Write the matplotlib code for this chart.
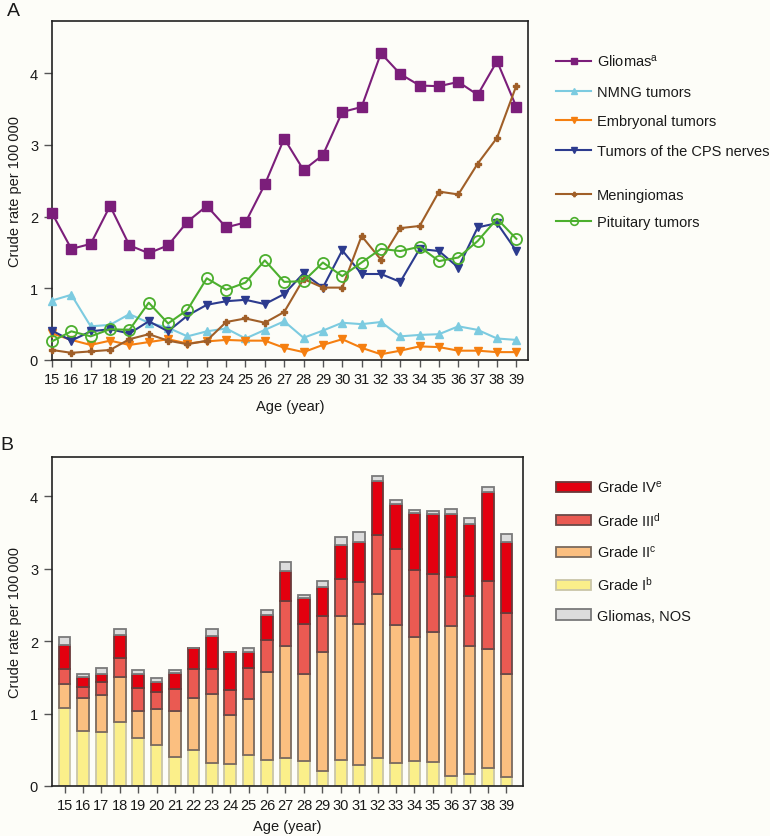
import matplotlib
matplotlib.use('Agg')
import matplotlib.pyplot as plt
from matplotlib.lines import Line2D
from matplotlib.patches import Patch

plt.rcParams['font.family'] = ['Liberation Sans', 'DejaVu Sans']

ages = list(range(15, 40))

# Panel A: crude rates per 100 000
gliomas = [2.05, 1.55, 1.62, 2.15, 1.60, 1.49, 1.60, 1.93, 2.15, 1.85, 1.92, 2.45, 3.09,
           2.65, 2.86, 3.46, 3.53, 4.28, 3.99, 3.83, 3.82, 3.88, 3.70, 4.17, 3.53]
nmng = [0.83, 0.91, 0.47, 0.49, 0.64, 0.52, 0.45, 0.33, 0.40, 0.44, 0.30, 0.42, 0.54,
        0.31, 0.41, 0.52, 0.50, 0.53, 0.33, 0.35, 0.36, 0.47, 0.42, 0.30, 0.28]
embryonal = [0.37, 0.28, 0.21, 0.27, 0.21, 0.25, 0.29, 0.23, 0.26, 0.28, 0.27, 0.27, 0.17,
             0.11, 0.21, 0.29, 0.17, 0.08, 0.13, 0.19, 0.18, 0.13, 0.13, 0.11, 0.11]
cps_nerves = [0.41, 0.27, 0.40, 0.43, 0.37, 0.54, 0.40, 0.62, 0.77, 0.82, 0.84, 0.78, 0.92,
              1.21, 1.01, 1.53, 1.20, 1.20, 1.09, 1.55, 1.52, 1.29, 1.85, 1.91, 1.52]
meningiomas = [0.14, 0.10, 0.12, 0.14, 0.29, 0.36, 0.27, 0.22, 0.27, 0.53, 0.58, 0.52, 0.67,
               1.13, 1.01, 1.01, 1.73, 1.40, 1.84, 1.87, 2.35, 2.31, 2.74, 3.10, 3.83]
pituitary = [0.26, 0.40, 0.33, 0.43, 0.42, 0.80, 0.51, 0.70, 1.14, 0.98, 1.08, 1.39, 1.09,
             1.10, 1.36, 1.17, 1.36, 1.55, 1.52, 1.58, 1.38, 1.43, 1.66, 1.97, 1.69]

# Panel B: glioma grades (stacked segments)
grade_I = [1.08, 0.76, 0.74, 0.88, 0.66, 0.57, 0.40, 0.49, 0.32, 0.30, 0.43, 0.36, 0.38,
           0.34, 0.21, 0.36, 0.29, 0.38, 0.32, 0.34, 0.33, 0.14, 0.17, 0.25, 0.13]
grade_II = [0.33, 0.46, 0.52, 0.63, 0.38, 0.49, 0.64, 0.73, 0.95, 0.68, 0.77, 1.22, 1.55,
            1.21, 1.64, 1.99, 1.94, 2.27, 1.90, 1.71, 1.79, 2.07, 1.76, 1.64, 1.42]
grade_III = [0.20, 0.14, 0.17, 0.26, 0.31, 0.24, 0.30, 0.39, 0.35, 0.34, 0.43, 0.43, 0.62,
             0.69, 0.49, 0.51, 0.59, 0.81, 1.05, 0.93, 0.81, 0.68, 0.69, 0.94, 0.84]
grade_IV = [0.33, 0.15, 0.11, 0.32, 0.19, 0.13, 0.22, 0.30, 0.45, 0.53, 0.22, 0.35, 0.41,
            0.36, 0.40, 0.47, 0.55, 0.75, 0.62, 0.79, 0.82, 0.86, 1.00, 1.23, 0.98]
gliomas_nos = [0.12, 0.04, 0.09, 0.07, 0.06, 0.06, 0.04, 0.00, 0.09, 0.00, 0.05, 0.07, 0.13,
               0.04, 0.09, 0.10, 0.13, 0.07, 0.05, 0.04, 0.04, 0.07, 0.08, 0.07, 0.11]

W, H = 770, 837
bg = '#fdfdf8'
fig = plt.figure(figsize=(W / 100, H / 100), dpi=100)
fig.patch.set_facecolor(bg)

txt = '#1a1a1a'
fs = 10.5


def style_axes(ax, xpad):
    ax.set_facecolor(bg)
    for s in ax.spines.values():
        s.set_linewidth(1.2)
        s.set_color('#222222')
    ax.tick_params(axis='both', direction='out', length=5, width=1.0, color='#555555',
                   labelsize=fs, labelcolor=txt, pad=4)
    ax.tick_params(axis='y', length=6)
    ax.set_xticks(ages)
    ax.set_xticklabels([str(a) for a in ages])
    ax.set_yticks([0, 1, 2, 3, 4])
    ax.set_ylabel('Crude rate per 100\u2009000', fontsize=fs, color=txt, labelpad=6)
    ax.set_xlabel('Age (year)', fontsize=fs, color=txt, labelpad=xpad)


# ---------- Panel A ----------
axA = fig.add_axes([52 / W, 1 - 361 / H, 476 / W, 339 / H])
style_axes(axA, 9)
axA.set_xlim(15, 39.6)
axA.set_ylim(0, 4.73)

series = [
    (gliomas, 'Gliomas$\\mathregular{^a}$', '#7b1e7a', 's', 6.5, 'full'),
    (nmng, 'NMNG tumors', '#7ccbe0', '^', 5.5, 'full'),
    (embryonal, 'Embryonal tumors', '#f57f10', 'v', 5.5, 'full'),
    (cps_nerves, 'Tumors of the CPS nerves', '#2c3b8e', 'v', 5.5, 'full'),
    (meningiomas, 'Meningiomas', '#a05f28', 'P', 4.5, 'full'),
    (pituitary, 'Pituitary tumors', '#4caf2e', 'o', 8, 'none'),
]
handles = []
for vals, lab, col, mk, ms, fill in series:
    if fill == 'none':
        axA.plot(ages, vals, color=col, lw=1.5, marker=mk, ms=ms, mfc='none',
                 mec=col, mew=1.3, clip_on=False, zorder=3)
        h = Line2D([], [], color=col, lw=1.5, marker=mk, ms=5.5, mfc='none', mec=col, mew=1.2)
    else:
        axA.plot(ages, vals, color=col, lw=1.5, marker=mk, ms=ms, mfc=col, mec=col,
                 clip_on=False, zorder=3)
        h = Line2D([], [], color=col, lw=1.5, marker=mk, ms=ms * 0.7, mfc=col, mec=col)
    handles.append((h, lab))

fig.legend([h for h, _ in handles[:4]], [l for _, l in handles[:4]],
           loc='upper left', bbox_to_anchor=(556 / W, 1 - 54 / H),
           bbox_transform=fig.transFigure, frameon=False, fontsize=fs,
           handlelength=2.4, handletextpad=0.4, labelspacing=1.07,
           borderpad=0, borderaxespad=0, labelcolor=txt)
fig.legend([h for h, _ in handles[4:]], [l for _, l in handles[4:]],
           loc='upper left', bbox_to_anchor=(556 / W, 1 - 189 / H),
           bbox_transform=fig.transFigure, frameon=False, fontsize=fs,
           handlelength=2.4, handletextpad=0.4, labelspacing=0.9,
           borderpad=0, borderaxespad=0, labelcolor=txt)

# ---------- Panel B ----------
axB = fig.add_axes([52 / W, 1 - 787 / H, 471 / W, 329 / H])
style_axes(axB, 5)
axB.set_xlim(14.32, 39.9)
axB.set_ylim(0, 4.54)

bar_specs = [
    (grade_I, 'Grade I$\\mathregular{^b}$', '#fbef8a', '#c9c5a8'),
    (grade_II, 'Grade II$\\mathregular{^c}$', '#fbbf80', '#7a6a5e'),
    (grade_III, 'Grade III$\\mathregular{^d}$', '#ea5a52', '#6a4a48'),
    (grade_IV, 'Grade IV$\\mathregular{^e}$', '#e3000f', '#6a3a3a'),
    (gliomas_nos, 'Gliomas, NOS', '#dcdcdc', '#7a7a7a'),
]
bottom = [0.0] * len(ages)
bar_handles = {}
for vals, lab, fc, ec in bar_specs:
    axB.bar(ages, vals, width=0.63, bottom=bottom, color=fc, edgecolor=ec,
            linewidth=1.3, zorder=2)
    bottom = [b + v for b, v in zip(bottom, vals)]
    bar_handles[lab] = Patch(facecolor=fc, edgecolor=ec, linewidth=1.3)

order = ['Grade IV$\\mathregular{^e}$', 'Grade III$\\mathregular{^d}$',
         'Grade II$\\mathregular{^c}$', 'Grade I$\\mathregular{^b}$', 'Gliomas, NOS']
fig.legend([bar_handles[k] for k in order], order,
           loc='upper left', bbox_to_anchor=(556 / W, 1 - 480 / H),
           bbox_transform=fig.transFigure, frameon=False, fontsize=fs,
           handlelength=2.4, handleheight=0.72, handletextpad=0.4, labelspacing=1.06,
           borderpad=0, borderaxespad=0, labelcolor=txt)

fig.text(7 / W, 1 - 11 / H, 'A', fontsize=14, color=txt, va='center', ha='left')
fig.text(0 / W, 1 - 446 / H, 'B', fontsize=14, color=txt, va='center', ha='left')

fig.savefig('out.png', dpi=100, facecolor=bg)
